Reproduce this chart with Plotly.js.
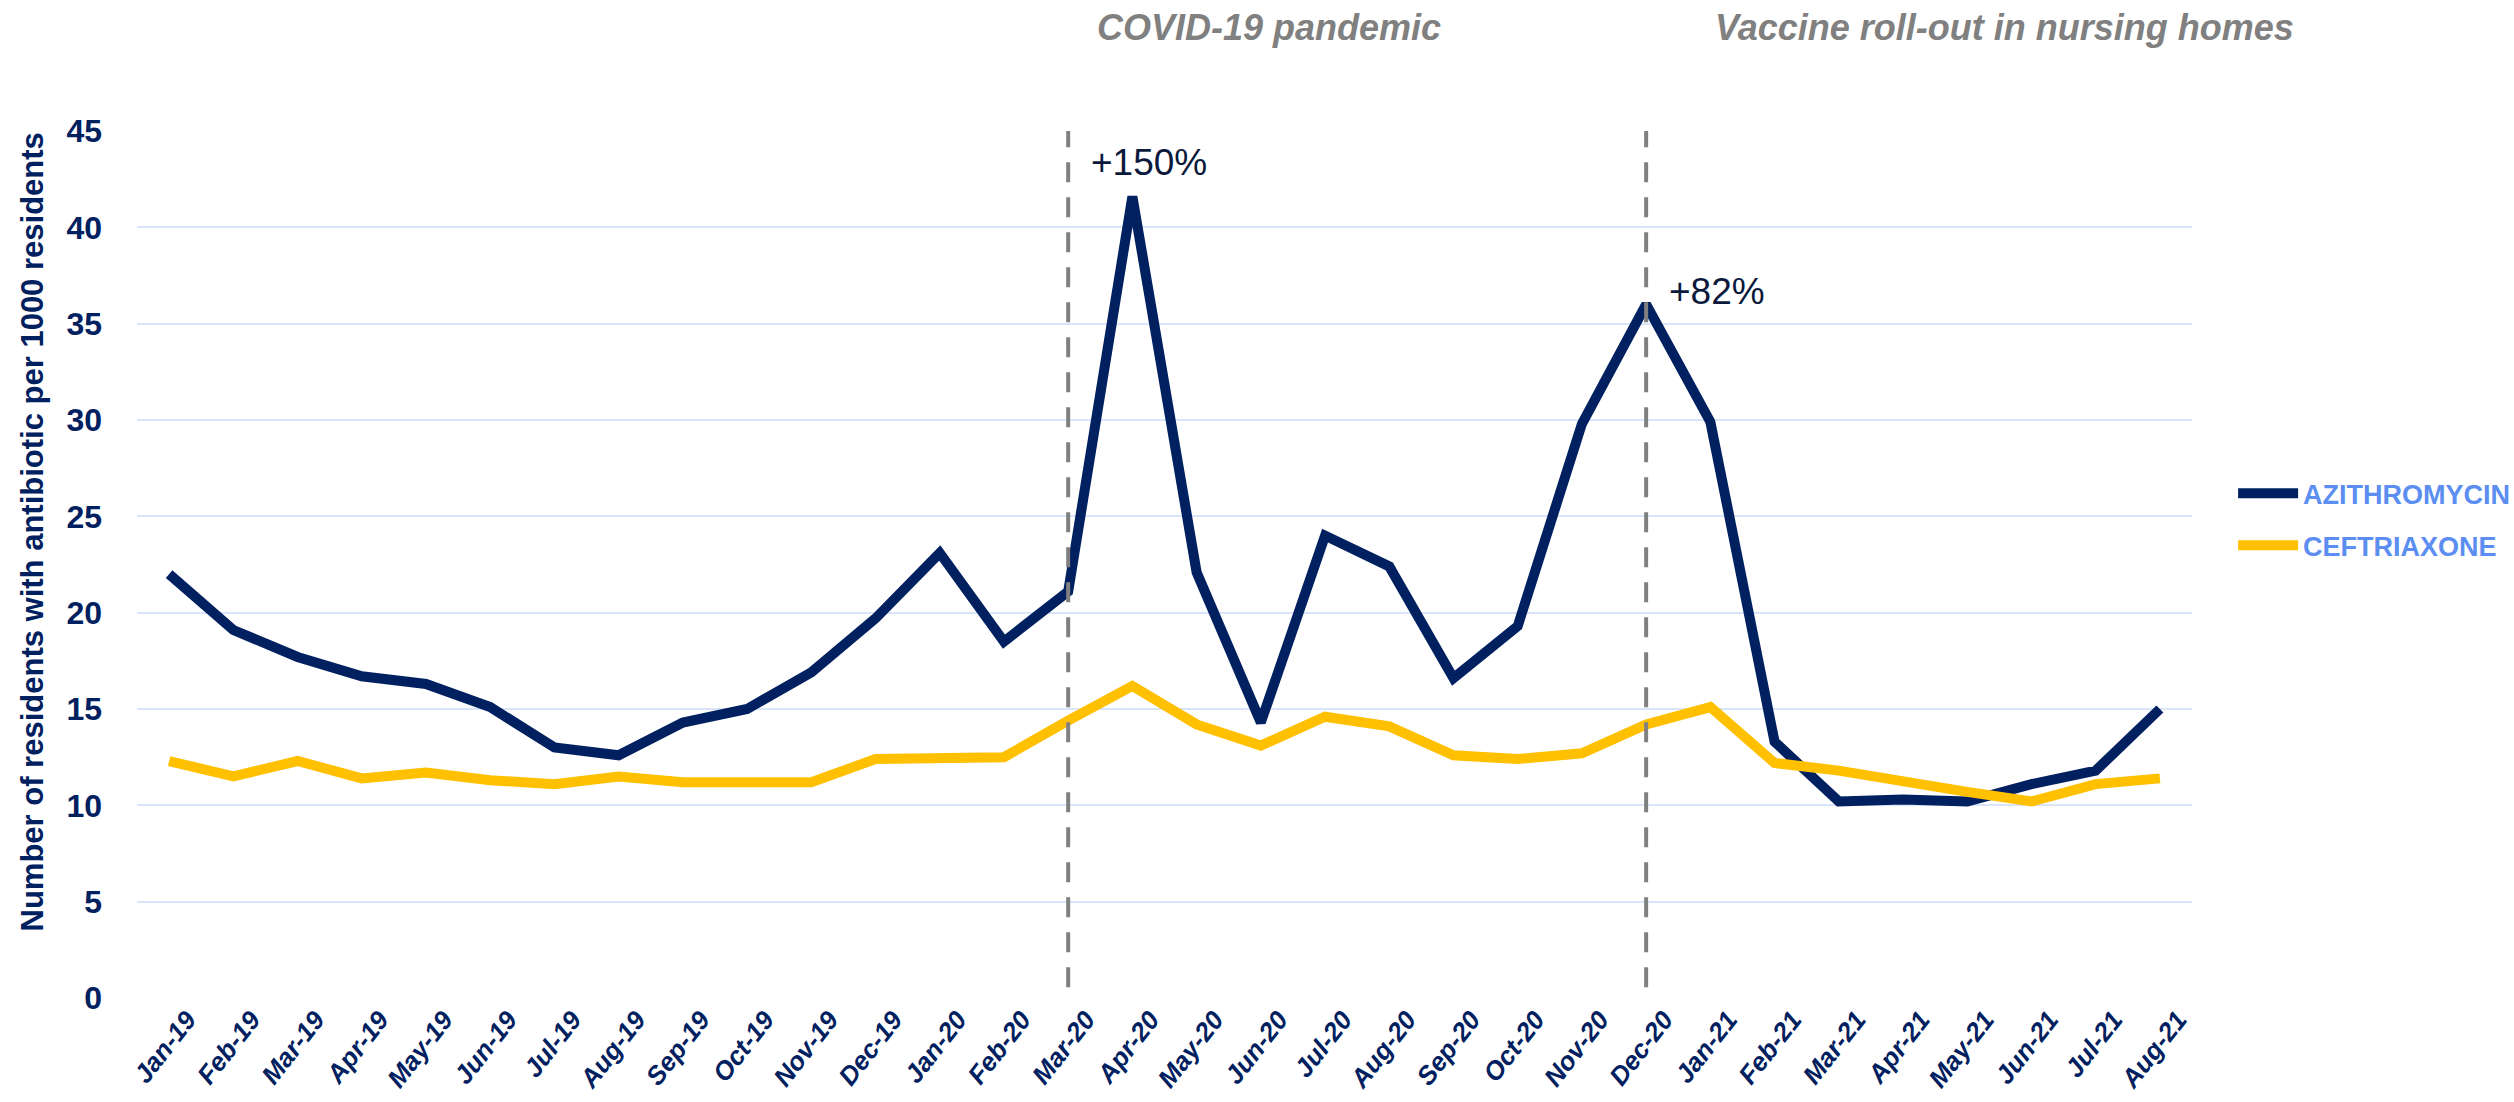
<!DOCTYPE html>
<html>
<head>
<meta charset="utf-8">
<script src="https://cdn.plot.ly/plotly-3.0.1.min.js"></script>
<style>
  html, body { margin: 0; padding: 0; background: #ffffff; }
  #chart { width: 2514px; height: 1102px; }
</style>
</head>
<body>
<div id="chart"></div>
<script>
// ---- Data ----
const months = [
  'Jan-19','Feb-19','Mar-19','Apr-19','May-19','Jun-19','Jul-19','Aug-19','Sep-19','Oct-19','Nov-19','Dec-19',
  'Jan-20','Feb-20','Mar-20','Apr-20','May-20','Jun-20','Jul-20','Aug-20','Sep-20','Oct-20','Nov-20','Dec-20',
  'Jan-21','Feb-21','Mar-21','Apr-21','May-21','Jun-21','Jul-21','Aug-21'
];
const azithromycin = [
  22.0, 19.1, 17.7, 16.7, 16.3, 15.1, 13.0, 12.6, 14.3, 15.0, 16.9, 19.7,
  23.1, 18.5, 21.1, 41.6, 22.1, 14.3, 24.0, 22.4, 16.6, 19.3, 29.8, 36.0,
  29.9, 13.3, 10.2, 10.3, 10.2, 11.1, 11.8, 15.0
];
const ceftriaxone = [
  12.3, 11.5, 12.3, 11.4, 11.7, 11.3, 11.1, 11.5, 11.2, 11.15, 11.2, 12.4,
  12.4, 12.5, 14.4, 16.2, 14.2, 13.1, 14.6, 14.1, 12.6, 12.4, 12.7, 14.2,
  15.1, 12.2, 11.8, 11.2, 10.7, 10.2, 11.1, 11.4
];
const seriesNames = ['AZITHROMYCIN', 'CEFTRIAXONE'];
const eventMonths = ['Mar-20', 'Dec-20'];
const eventLabels = ['COVID-19 pandemic', 'Vaccine roll-out in nursing homes'];
const peakMonths = ['Apr-20', 'Dec-20'];
const peakLabels = ['+150%', '+82%'];
const yTitle = 'Number of residents with antibiotic per 1000 residents';

// ---- Styles ----
const NAVY = '#002060';
const GOLD = '#FFC000';
const GRID = '#d9e5fb';
const GREY = '#808080';
const NARROW = 'Liberation Sans Narrow, Arial Narrow, Liberation Sans, Arial, sans-serif';

const traces = [
  {
    x: months, y: azithromycin, name: seriesNames[0], type: 'scatter', mode: 'lines',
    line: { color: NAVY, width: 10 }, legendgroup: 'a', hoverinfo: 'skip'
  },
  {
    x: months, y: ceftriaxone, name: seriesNames[1], type: 'scatter', mode: 'lines',
    line: { color: GOLD, width: 10 }, legendgroup: 'b', hoverinfo: 'skip'
  }
];

const shapes = eventMonths.map(m => ({
  type: 'line', xref: 'x', yref: 'y', x0: m, x1: m, y0: 45.2, y1: 0,
  line: { color: GREY, width: 4, dash: '20px,15px' }, layer: 'above'
}));

const annotations = [];
eventMonths.forEach((m, i) => {
  annotations.push({
    xref: 'x', yref: 'paper', x: m, y: 1, xanchor: 'left', yanchor: 'middle',
    xshift: i === 0 ? 27 : 67, yshift: 104, showarrow: false,
    text: '<b><i>' + eventLabels[i] + '</i></b>',
    font: { family: NARROW, size: 36, color: GREY }
  });
});
peakMonths.forEach((m, i) => {
  const idx = months.indexOf(m);
  annotations.push({
    xref: 'x', yref: 'y', x: m, y: azithromycin[idx], xanchor: 'left', yanchor: 'middle',
    xshift: i === 0 ? -43 : 21, yshift: i === 0 ? 34 : 13, showarrow: false,
    text: peakLabels[i],
    font: { family: NARROW, size: 37, color: '#0b1a3c' }
  });
});
annotations.push({
  xref: 'paper', yref: 'paper', x: 0, y: 0.5, xanchor: 'center', yanchor: 'middle',
  xshift: -105, yshift: 32, textangle: -90, showarrow: false,
  text: '<b>' + yTitle + '</b>',
  font: { family: NARROW, size: 31, color: NAVY }
});

const layout = {
  width: 2514, height: 1102,
  paper_bgcolor: '#ffffff', plot_bgcolor: '#ffffff',
  margin: { l: 137, r: 322, t: 131, b: 104, pad: 0, autoexpand: false },
  showlegend: true,
  legend: {
    x: 1.02, y: 0.61, xanchor: 'left', yanchor: 'top',
    traceorder: 'grouped', tracegroupgap: 14, itemwidth: 60,
    font: { family: 'Liberation Sans, Arial, sans-serif', size: 27, color: '#5b8ef0', weight: 'bold' },
    bgcolor: 'rgba(0,0,0,0)'
  },
  xaxis: {
    type: 'category', range: [-0.5, months.length - 0.5],
    showgrid: false, zeroline: false, showline: false, ticks: '',
    tickangle: -52, ticklabelshift: 18,
    tickfont: { family: 'Liberation Sans, Arial, sans-serif', size: 26, color: NAVY, weight: 'bold', style: 'italic' },
    fixedrange: true
  },
  yaxis: {
    range: [0, 45], dtick: 5, tick0: 0,
    showgrid: true, gridcolor: GRID, gridwidth: 2,
    zeroline: false, showline: false, ticks: '',
    ticklabelstandoff: 34,
    tickfont: { family: 'Liberation Sans, Arial, sans-serif', size: 32, color: NAVY, weight: 'bold' },
    fixedrange: true
  },
  shapes: shapes,
  annotations: annotations
};

Plotly.newPlot('chart', traces, layout, { displayModeBar: false, staticPlot: true });
</script>
</body>
</html>
